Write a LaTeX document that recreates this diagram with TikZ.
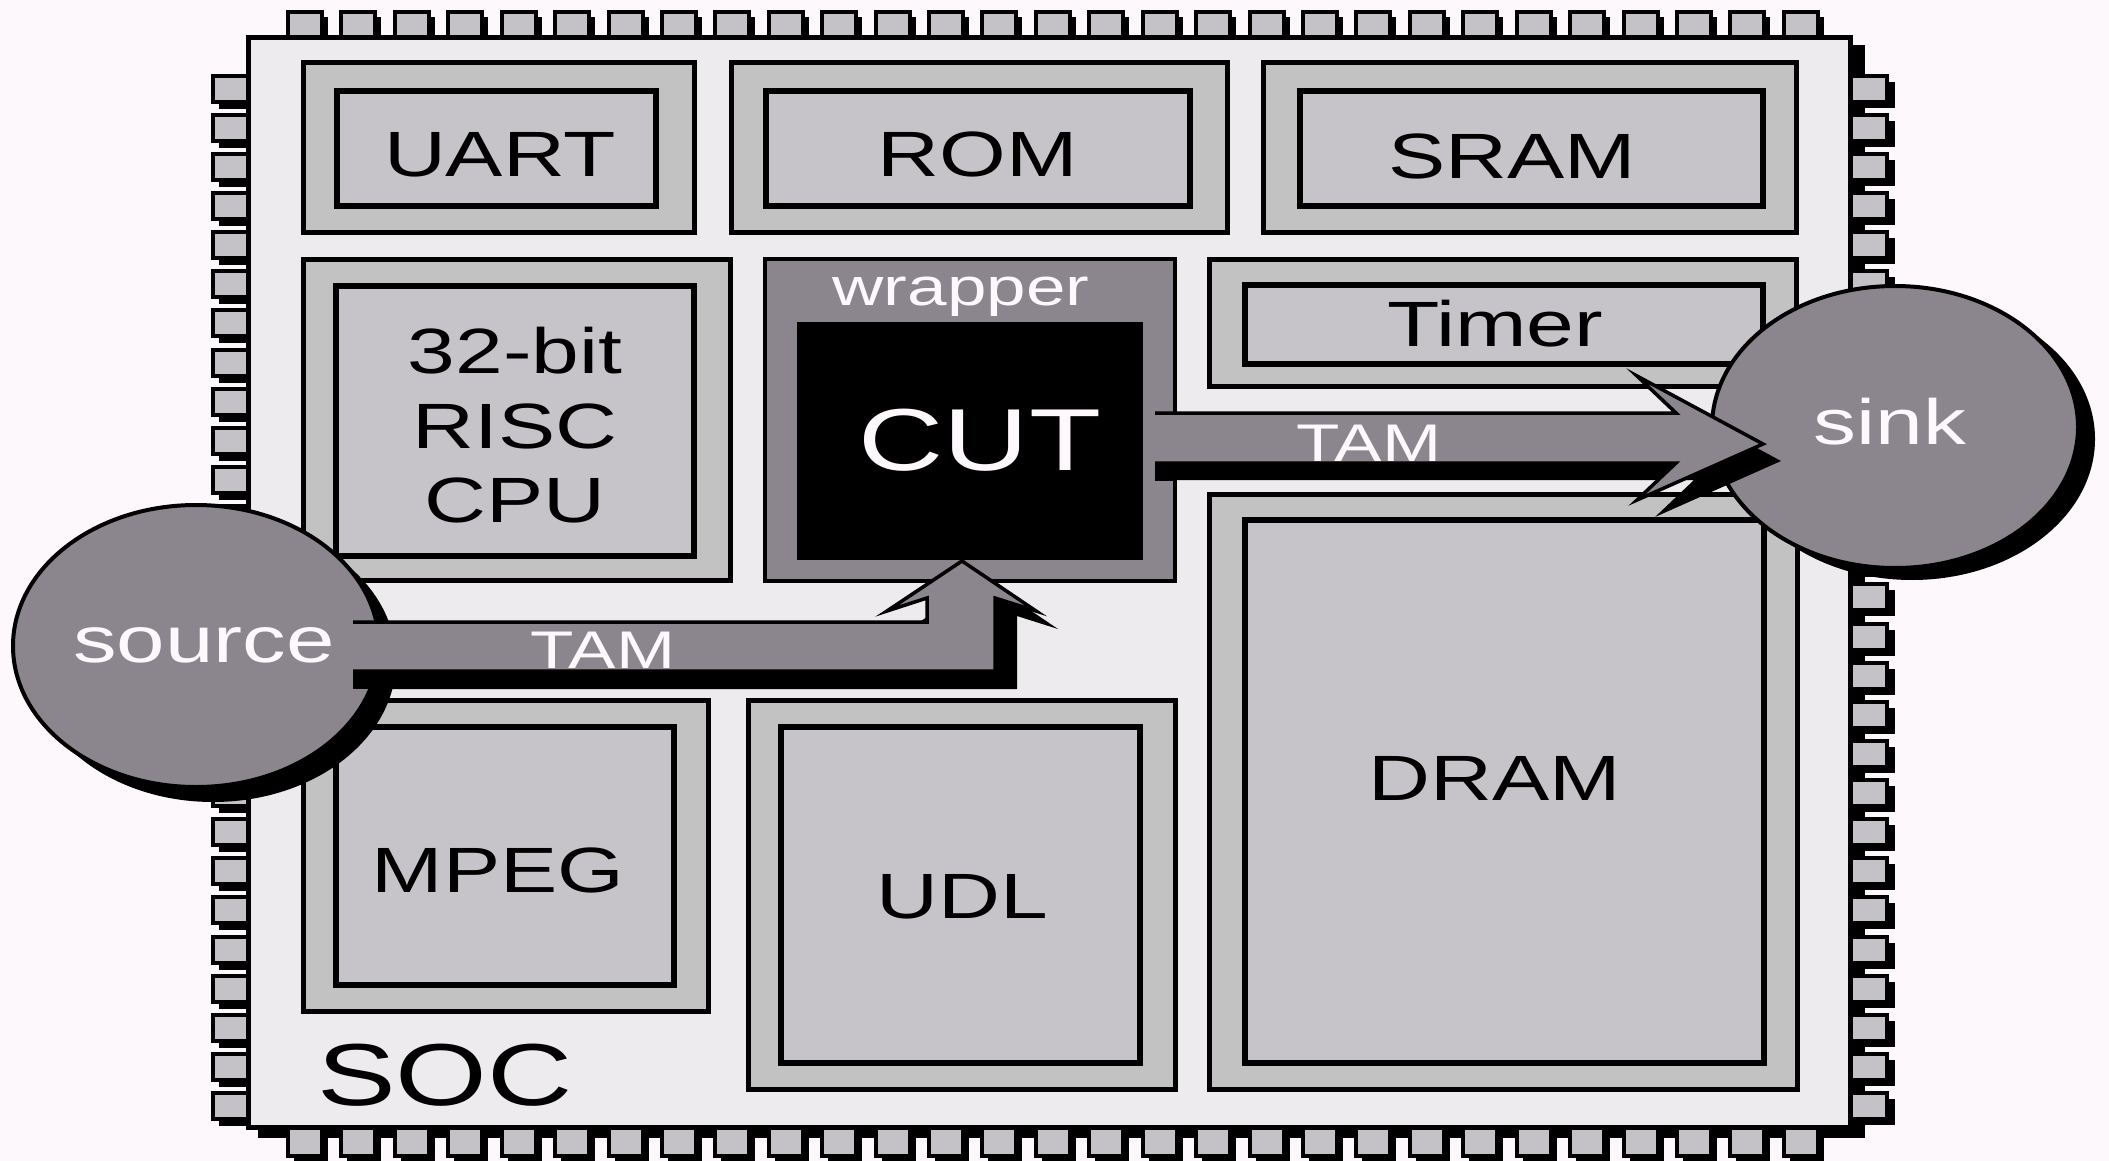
\documentclass[tikz,border=0pt]{standalone}
\usepackage{fontspec}
\setmainfont{Liberation Sans}[FakeStretch=1.34]
\usetikzlibrary{shapes.geometric}
\definecolor{bg}{HTML}{FCF8FC}
\definecolor{bodyfill}{HTML}{EEEBEF}
\definecolor{outerfill}{HTML}{C2C2C2}
\definecolor{innerfill}{HTML}{C6C4C8}
\definecolor{pinfill}{HTML}{C4C2C6}
\definecolor{dark}{HTML}{8B868D}
\definecolor{txtw}{HTML}{FCF8FC}
\begin{document}
\begin{tikzpicture}[x=1pt,y=-1pt,
  pin/.style={draw=black,line width=4,fill=pinfill},
  outerbox/.style={draw=black,line width=5,fill=outerfill},
  innerbox/.style={draw=black,line width=6,fill=innerfill},
  lbl/.style={inner sep=0,anchor=base,font=\fontsize{64}{70}\selectfont},
  wlbl/.style={lbl,text=txtw},
  blob/.style={ellipse,inner sep=0,minimum width=366,minimum height=282},
  tam/.style={fill=dark},
  tamline/.style={draw=black,line width=3.5,line join=miter}]
\useasboundingbox (0,0) rectangle (2109,1161);
\fill[bg] (0,0) rectangle (2109,1161);
% chip body shadow
\fill[black] (258,45) rectangle (1865,1138);
% pins
\foreach \i in {0,...,28} {
  \pgfmathsetmacro\px{286+53.42*\i}
  \fill[black] (\px+8,17) rectangle (\px+42,46);
  \draw[pin] (\px+2,12.5) rectangle (\px+36,46);
  \fill[black] (\px+8,1124) rectangle (\px+42,1165);
  \draw[pin] (\px+2,1118) rectangle (\px+36,1156);
}
\foreach \j in {0,...,26} {
  \pgfmathsetmacro\py{72.7+39.13*\j}
  \fill[black] (219,\py+10) rectangle (258,\py+36);
  \draw[pin] (213,\py+3) rectangle (252,\py+29);
  \fill[black] (1856,\py+9) rectangle (1895,\py+35);
  \draw[pin] (1848,\py+3) rectangle (1887,\py+29);
}
% chip body
\draw[line width=5,fill=bodyfill] (248.5,37.5) rectangle (1850.5,1127.5);
% modules
\foreach \ax/\ay/\bx/\by/\cx/\cy/\dx/\dy in {
  303/63/694/232/337/91/656/206,
  731/63/1227/232/766/91/1190/206,
  1263/63/1796/232/1300/91/1763/206,
  303/259/730/580/336/286/694/556,
  1209/259/1796/386/1245/285/1763/364,
  1209/494/1797/1089/1245/520/1764/1063,
  303/700/708/1011/336/727/674/985,
  748/700/1175/1089/781/727/1140/1063} {
  \draw[outerbox] (\ax,\ay) rectangle (\bx,\by);
  \draw[innerbox] (\cx,\cy) rectangle (\dx,\dy);
}
% wrapper and CUT
\draw[line width=4,fill=dark] (765,259) rectangle (1175,581);
\node[fill=black,inner sep=0,minimum width=346,minimum height=238] (cut) at (970,441) {};
% module labels
\node[lbl] (uart) at (500,177) {UART};
\node[lbl] (rom) at (978,177) {ROM};
\node[lbl] (sram) at (1512,179) {SRAM};
\node[lbl] (timer) at (1495,346) {Timer};
\node[lbl] (cpua) at (515,373) {32-bit};
\node[lbl] (cpub) at (515,448) {RISC};
\node[lbl] (cpuc) at (515,522) {CPU};
\node[lbl] (dram) at (1495,800) {DRAM};
\node[lbl] (mpeg) at (498,892) {MPEG};
\node[lbl] (udl) at (962,918) {UDL};
\node[lbl,font=\fontsize{88}{96}\selectfont] (soc) at (445,1105) {SOC};
\node[wlbl,font=\fontsize{53}{60}\selectfont] (wrap) at (961,305) {wrapper};
\node[wlbl,font=\fontsize{88}{96}\selectfont] (cutl) at (980,470) {CUT};
% source and sink
\node[blob,fill=black] (srcsh) at (213,661) {};
\node[blob,fill=dark,draw=black,line width=4] (source) at (196,646) {};
\node[blob,fill=black] (snksh) at (1912,439) {};
\node[blob,fill=dark,draw=black,line width=4] (sink) at (1895,427) {};
% lower TAM arrow: source -> CUT
\fill[black] (353,671) rectangle (376,689);
\fill[black,shift={(22,18)}] (353,622) -- (927,622) -- (927,598) -- (887,611) -- (962,561) -- (1036,611) -- (995,598) -- (995,671) -- (353,671) -- cycle;
\fill[tam] (353,622) -- (927,622) -- (927,598) -- (887,611) -- (962,561) -- (1036,611) -- (995,598) -- (995,671) -- (353,671) -- cycle;
\draw[tamline] (353,622) -- (927,622) -- (927,598) -- (887,611) -- (962,561) -- (1036,611) -- (995,598) -- (995,671) -- (353,671);
% upper TAM arrow: CUT -> sink
\fill[black] (1155,463) rectangle (1175,481);
\fill[black,shift={(18,17)}] (1155,413) -- (1676,413) -- (1637,376) -- (1763,444) -- (1637,500) -- (1676,463) -- (1155,463) -- cycle;
\fill[tam] (1155,413) -- (1676,413) -- (1637,376) -- (1763,444) -- (1637,500) -- (1676,463) -- (1155,463) -- cycle;
\draw[tamline] (1155,413) -- (1676,413) -- (1637,376) -- (1763,444) -- (1637,500) -- (1676,463) -- (1155,463);
% labels on dark
\node[wlbl,font=\fontsize{65}{70}\selectfont] (srcl) at (204,662) {source};
\node[wlbl,font=\fontsize{64}{70}\selectfont] (snkl) at (1890,444) {sink};
\node[wlbl,font=\fontsize{53}{60}\selectfont] (tam1) at (603,668) {TAM};
\node[wlbl,font=\fontsize{53}{60}\selectfont] (tam2) at (1369,461) {TAM};
\end{tikzpicture}
\end{document}
